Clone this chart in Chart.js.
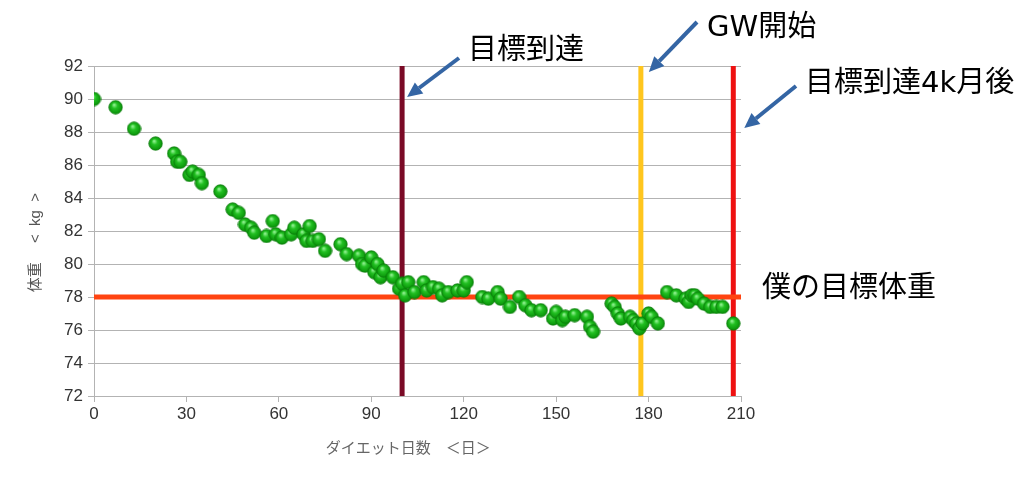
<!DOCTYPE html>
<html><head><meta charset="utf-8">
<script src="https://cdn.jsdelivr.net/npm/chart.js@4/dist/chart.umd.min.js"></script>
<style>html,body{margin:0;padding:0;background:#fff}#wrap{width:1036px;height:483px}</style>
</head><body><div id="wrap"><canvas id="c" width="1036" height="483"></canvas></div>
<script>
const days = [0,7,13,20,26,27,28,31,32,34,35,41,45,47,49,51,52,56,58,59,61,64,65,68,69,70,71,73,75,80,82,86,87,88,90,91,92,93,94,97,99,100,101,102,104,107,108,110,112,113,115,118,120,121,126,128,131,132,135,138,140,142,145,149,150,152,153,156,160,161,162,168,169,170,171,174,175,176,177,178,180,181,183,186,189,192,193,194,195,196,198,200,202,204,207.5];
const weights = [90.0,89.5,88.2,87.3,86.7,86.2,86.2,85.4,85.6,85.4,84.9,84.4,83.3,83.1,82.4,82.2,81.9,81.7,82.6,81.8,81.6,81.8,82.2,81.8,81.4,82.3,81.4,81.5,80.8,81.2,80.6,80.5,80.0,79.9,80.4,79.5,80.0,79.2,79.6,79.2,78.5,78.8,78.1,78.9,78.3,78.9,78.4,78.6,78.5,78.1,78.3,78.4,78.4,78.9,78.0,77.9,78.3,77.9,77.4,78.0,77.5,77.2,77.2,76.7,77.1,76.6,76.8,76.9,76.8,76.2,75.9,77.6,77.4,77.0,76.7,76.8,76.6,76.4,76.1,76.4,77.0,76.8,76.4,78.3,78.1,77.9,77.7,78.1,78.1,77.9,77.6,77.4,77.4,77.4,76.4];
const xTicks = [0,30,60,90,120,150,180,210];
const yTicks = [72,74,76,78,80,82,84,86,88,90,92];
const goalDay = 100;
const gwDay = 177.5;
const afterDay = 207.5;
const goalWeight = 78;
const labels = ["目標到達","GW開始","目標到達4k月後","僕の目標体重"];
const xTitle = "ダイエット日数　＜日＞　 ";
const yTitle = "体重　 <  kg  >　  ";

// point image
const pimg = document.createElement('canvas');
pimg.width = 15; pimg.height = 15;
(function(){
  const g = pimg.getContext('2d');
  const grad = g.createRadialGradient(6,5,0.5,7.5,7.5,7.5);
  grad.addColorStop(0,'#8ef08e');
  grad.addColorStop(0.35,'#22c022');
  grad.addColorStop(1,'#058a05');
  g.beginPath(); g.arc(7.5,7.5,6.7,0,Math.PI*2);
  g.fillStyle = grad; g.fill();
  g.lineWidth = 0.8; g.strokeStyle = '#0a7a0a'; g.stroke();
})();

const pts = days.map((d,i)=>({x:d,y:weights[i]}));
const yMin = yTicks[0], yMax = yTicks[yTicks.length-1];
const xMin = xTicks[0], xMax = xTicks[xTicks.length-1];

const annot = {
  id:'annot',
  afterDraw(chart){
    const ctx = chart.ctx;
    const xs = chart.scales.x;
    ctx.save();
    ctx.fillStyle = '#000';
    ctx.font = '29px "DejaVu Sans", "Noto Sans CJK JP"';
    ctx.textBaseline = 'middle';
    ctx.fillText(labels[0], 468, 51);
    ctx.fillText(labels[1], 707, 28);
    ctx.fillText(labels[2], 805, 84);
    ctx.fillText(labels[3], 762, 289);
    function arrow(x1,y1,x2,y2){
      const ang = Math.atan2(y2-y1,x2-x1);
      const hl = 15, hw = 7;
      const bx = x2 - hl*Math.cos(ang), by = y2 - hl*Math.sin(ang);
      ctx.strokeStyle = '#3465a4'; ctx.fillStyle = '#3465a4';
      ctx.lineWidth = 4; ctx.lineCap = 'butt';
      ctx.beginPath(); ctx.moveTo(x1,y1); ctx.lineTo(bx,by); ctx.stroke();
      ctx.beginPath();
      ctx.moveTo(x2,y2);
      ctx.lineTo(bx + hw*Math.sin(ang), by - hw*Math.cos(ang));
      ctx.lineTo(bx - hw*Math.sin(ang), by + hw*Math.cos(ang));
      ctx.closePath(); ctx.fill();
    }
    const gx = xs.getPixelForValue(goalDay);
    const wx = xs.getPixelForValue(gwDay);
    const ax = xs.getPixelForValue(afterDay);
    arrow(459,58,gx+5,97);
    arrow(697,22,wx+8,72);
    arrow(796,86,ax+11,128);
    ctx.restore();
  }
};

new Chart(document.getElementById('c'), {
  type:'scatter',
  data:{datasets:[
    {data:pts, pointStyle:pimg, pointRadius:7, order:0, showLine:false},
    {data:[{x:xMin,y:goalWeight},{x:xMax,y:goalWeight}], showLine:true, borderColor:'#ff4411', borderWidth:5, pointRadius:0, order:1},
    {data:[{x:goalDay,y:yMin},{x:goalDay,y:yMax}], showLine:true, borderColor:'#7a0a26', borderWidth:5, pointRadius:0, order:2},
    {data:[{x:gwDay,y:yMin},{x:gwDay,y:yMax}], showLine:true, borderColor:'#ffc61e', borderWidth:5, pointRadius:0, order:2},
    {data:[{x:afterDay,y:yMin},{x:afterDay,y:yMax}], showLine:true, borderColor:'#ee1111', borderWidth:5, pointRadius:0, order:2}
  ]},
  options:{
    responsive:false, animation:false, devicePixelRatio:1,
    layout:{padding:{left:23,right:295,top:66,bottom:23}},
    plugins:{legend:{display:false},tooltip:{enabled:false}},
    scales:{
      x:{type:'linear', min:xMin, max:xMax,
        afterBuildTicks(s){s.ticks = xTicks.map(v=>({value:v}));},
        afterFit(s){s.height = 64;},
        grid:{drawOnChartArea:false, color:'#b3b3b3', tickLength:6},
        border:{color:'#b3b3b3'},
        ticks:{color:'#333', font:{family:'"Liberation Sans"', size:17}, padding:2, maxRotation:0},
        title:{display:true, text:xTitle, color:'#666', font:{family:'"Noto Sans CJK JP"', size:15}, padding:{top:4}}
      },
      y:{type:'linear', min:yMin, max:yMax,
        afterBuildTicks(s){s.ticks = yTicks.map(v=>({value:v}));},
        afterFit(s){s.width = 71;},
        grid:{color:'#b3b3b3', tickLength:6},
        border:{color:'#b3b3b3'},
        ticks:{color:'#333', font:{family:'"Liberation Sans"', size:17}, padding:5},
        title:{display:true, text:yTitle, color:'#555', font:{family:'"Liberation Sans", "Noto Sans CJK JP"', size:15}, padding:{top:4}}
      }
    }
  },
  plugins:[annot]
});
</script></body></html>
